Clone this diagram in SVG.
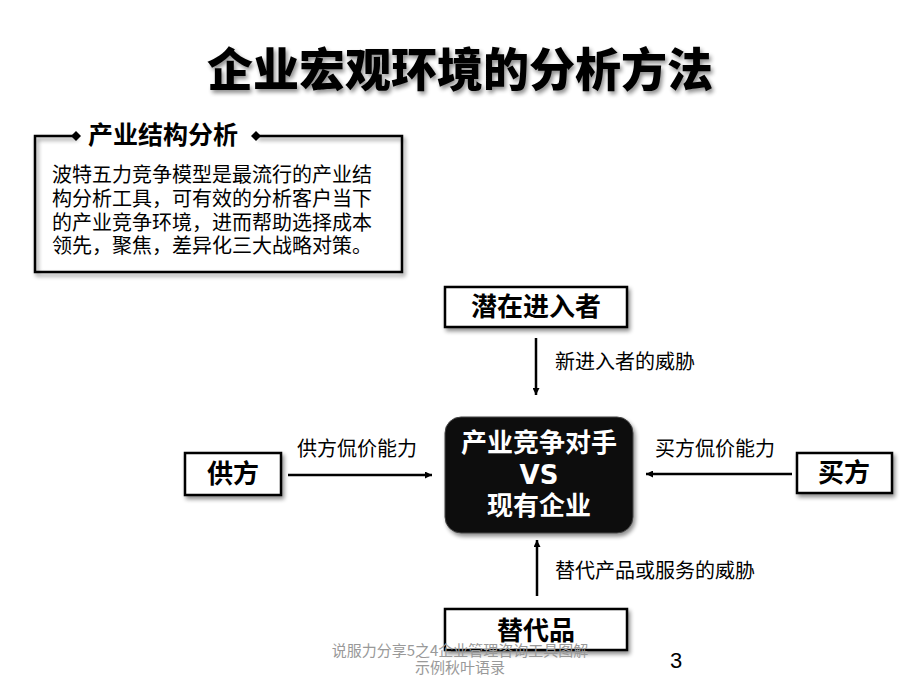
<svg xmlns="http://www.w3.org/2000/svg" width="920" height="690" viewBox="0 0 920 690">
<style>
.cjk{font-family:"Noto Sans CJK SC","Noto Sans",sans-serif}
.box{fill:#fff;stroke:#000;stroke-width:2.5}
.lbl{font-size:26px;font-weight:700;fill:#000;text-anchor:middle}
.edge{font-size:20px;fill:#000}
.ln{stroke:#000;stroke-width:2.5;fill:none}
</style>
<defs>
<filter id="sh" x="-20%" y="-20%" width="140%" height="150%">
<feGaussianBlur in="SourceAlpha" stdDeviation="2"/>
<feOffset dx="2" dy="3" result="b"/>
<feComponentTransfer><feFuncA type="linear" slope="0.45"/></feComponentTransfer>
<feMerge><feMergeNode/><feMergeNode in="SourceGraphic"/></feMerge>
</filter>
<marker id="ah" viewBox="0 0 10 10" refX="10" refY="5" markerWidth="7" markerHeight="7" markerUnits="userSpaceOnUse" orient="auto">
<path d="M0,0 L10,5 L0,10 z" fill="#000"/>
</marker>
</defs>
<rect width="920" height="690" fill="#fff"/>
<g id="title" filter="url(#sh)">
<text class="cjk" x="460" y="86" font-size="46" font-weight="900" text-anchor="middle">企业宏观环境的分析方法</text>
</g>
<g id="panel">
<path d="M76,136 H35 V272 H402 V136 H256" class="ln" filter="url(#sh)"/>
<path d="M71,136 L76,131 L81,136 L76,141 z" fill="#000"/>
<path d="M251,136 L256,131 L261,136 L256,141 z" fill="#000"/>
<text class="cjk" x="88" y="144" font-size="25" font-weight="700">产业结构分析</text>
<text class="cjk" font-size="20" fill="#000">
<tspan x="52" y="182">波特五力竞争模型是最流行的产业结</tspan>
<tspan x="52" y="206">构分析工具，可有效的分析客户当下</tspan>
<tspan x="52" y="230">的产业竞争环境，进而帮助选择成本</tspan>
<tspan x="52" y="253">领先，聚焦，差异化三大战略对策。</tspan>
</text>
</g>
<g id="connectors">
<line x1="536" y1="338" x2="536" y2="395" class="ln" marker-end="url(#ah)"/>
<line x1="288" y1="475" x2="432" y2="475" class="ln" marker-end="url(#ah)"/>
<line x1="792" y1="474" x2="646" y2="474" class="ln" marker-end="url(#ah)"/>
<line x1="537" y1="596" x2="537" y2="540" class="ln" marker-end="url(#ah)"/>
<text class="cjk edge" x="555" y="369">新进入者的威胁</text>
<text class="cjk edge" x="297" y="456">供方侃价能力</text>
<text class="cjk edge" x="655" y="456">买方侃价能力</text>
<text class="cjk edge" x="555" y="578">替代产品或服务的威胁</text>
</g>
<g id="entrants">
<rect x="445" y="287" width="182" height="40" class="box" filter="url(#sh)"/>
<text class="cjk lbl" x="536" y="316">潜在进入者</text>
</g>
<g id="rivals">
<rect x="445" y="417" width="188" height="116" rx="16" fill="#111" stroke="#444" stroke-width="1" filter="url(#sh)"/>
<text class="cjk lbl" x="539" y="452" style="fill:#fff">产业竞争对手</text>
<text class="lbl" x="539" y="484" font-family="Verdana,'DejaVu Sans',sans-serif" style="fill:#fff;font-weight:700">VS</text>
<text class="cjk lbl" x="539" y="515" style="fill:#fff">现有企业</text>
</g>
<g id="suppliers">
<rect x="185" y="453" width="96" height="42" class="box" filter="url(#sh)"/>
<text class="cjk lbl" x="233" y="483">供方</text>
</g>
<g id="buyers">
<rect x="797" y="453" width="95" height="40" class="box" filter="url(#sh)"/>
<text class="cjk lbl" x="844" y="482">买方</text>
</g>
<g id="substitutes">
<rect x="445" y="609" width="182" height="41" class="box" filter="url(#sh)"/>
<text class="cjk lbl" x="536" y="640">替代品</text>
</g>
<g id="footer">
<text class="cjk" x="460" y="656" font-size="15" fill="#999" text-anchor="middle">说服力分享5之4企业管理咨询工具图解</text>
<text class="cjk" x="460" y="673" font-size="15" fill="#999" text-anchor="middle">示例秋叶语录</text>
<text x="676" y="668" font-size="22" fill="#000" text-anchor="middle" font-family="'Liberation Sans',Arial,sans-serif">3</text>
</g>
</svg>
